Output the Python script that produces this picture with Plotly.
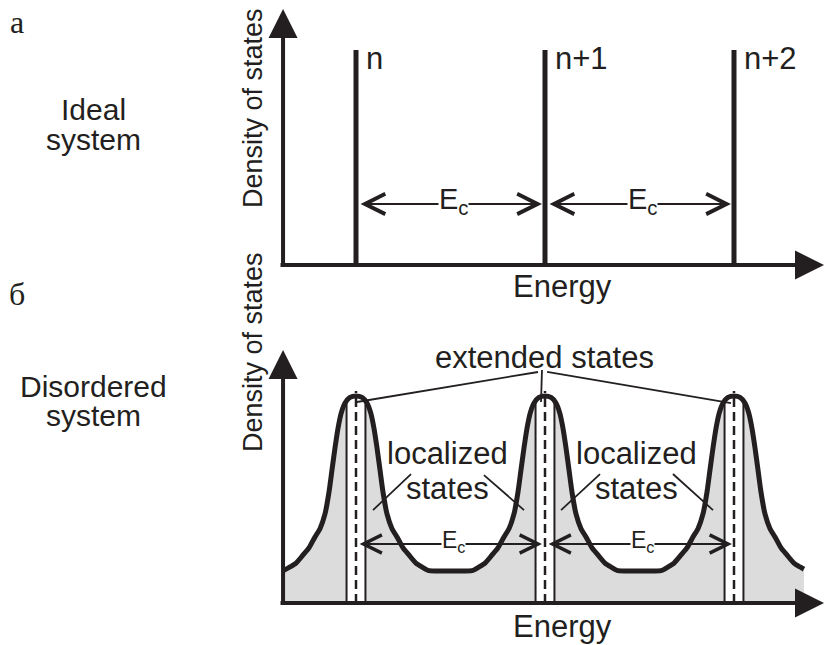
import numpy as np
import plotly.graph_objects as go

# ---------------- data ----------------
# (a) ideal system: discrete levels
levels = [1, 2, 3]
level_labels = ["n", "n+1", "n+2"]
level_height = [1.0, 1.0, 1.0]

# (б) disordered system: density of states
dos_energy = [0.614, 0.619, 0.651, 0.683, 0.720, 0.751, 0.783, 0.810, 0.836, 0.857,
              0.873, 0.889, 0.905, 0.921, 0.942, 0.968, 1.000,
              1.032, 1.058, 1.079, 1.095, 1.111, 1.127, 1.143, 1.164, 1.190,
              1.217, 1.249, 1.280, 1.317, 1.349, 1.381,
              1.420, 1.500, 1.580,
              1.619, 1.651, 1.683, 1.720, 1.751, 1.783, 1.810, 1.836, 1.857,
              1.873, 1.889, 1.905, 1.921, 1.942, 1.968, 2.000,
              2.032, 2.058, 2.079, 2.095, 2.111, 2.127, 2.143, 2.164, 2.190,
              2.217, 2.249, 2.280, 2.317, 2.349, 2.381,
              2.420, 2.500, 2.580,
              2.619, 2.651, 2.683, 2.720, 2.751, 2.783, 2.810, 2.836, 2.857,
              2.873, 2.889, 2.905, 2.921, 2.942, 2.968, 3.000,
              3.032, 3.058, 3.079, 3.095, 3.111, 3.127, 3.143, 3.164, 3.190,
              3.217, 3.249, 3.280, 3.317, 3.349, 3.370]
dos_value = [0.157, 0.158, 0.174, 0.193, 0.232, 0.266, 0.319, 0.360, 0.430, 0.535,
             0.643, 0.750, 0.845, 0.915, 0.966, 0.993, 1.000,
             0.993, 0.966, 0.915, 0.845, 0.750, 0.643, 0.535, 0.430, 0.360,
             0.319, 0.266, 0.232, 0.193, 0.174, 0.158,
             0.155, 0.155, 0.155,
             0.158, 0.174, 0.193, 0.232, 0.266, 0.319, 0.360, 0.430, 0.535,
             0.643, 0.750, 0.845, 0.915, 0.966, 0.993, 1.000,
             0.993, 0.966, 0.915, 0.845, 0.750, 0.643, 0.535, 0.430, 0.360,
             0.319, 0.266, 0.232, 0.193, 0.174, 0.158,
             0.155, 0.155, 0.155,
             0.158, 0.174, 0.193, 0.232, 0.266, 0.319, 0.360, 0.430, 0.535,
             0.643, 0.750, 0.845, 0.915, 0.966, 0.993, 1.000,
             0.993, 0.966, 0.915, 0.845, 0.750, 0.643, 0.535, 0.430, 0.360,
             0.319, 0.266, 0.232, 0.193, 0.174, 0.163]

peaks = [1, 2, 3]                 # extended states
strip_half = 0.05                 # half width of extended-state band
dashed_top = 1.024

# leader lines (energy, dos)
ext_leader_x = [[1.963, 1.005], [1.984, 1.979], [2.011, 2.984]]
ext_leader_y = [[1.116, 0.971], [1.126, 0.971], [1.116, 0.966]]
loc_leader_x = [[1.291, 1.090], [1.677, 1.889], [2.291, 2.085], [2.677, 2.889]]
loc_leader_y = [[0.623, 0.449], [0.618, 0.449], [0.623, 0.449], [0.623, 0.449]]

# E_c spacing arrows
ec_top = [(1.016, 1.984), (2.016, 2.984)]
ec_top_y = 0.284
ec_bot = [(1.011, 1.984), (2.011, 2.989)]
ec_bot_y = 0.285
ec_label_x = [1.5, 2.5]

axis_origin = 0.614
x_range = [-0.8836, 3.4815]
top_y_range = [-0.16279, 1.23256]
bot_y_range = [-0.20290, 1.36715]

# ---------------- style ----------------
INK = "#231f20"
GRAY = "#dcdcdc"
SANS = "Liberation Sans, Arial, sans-serif"
SERIF = "Liberation Serif, Times New Roman, serif"

fig = go.Figure()

# ---- top panel: discrete levels ----
lx, ly = [], []
for e, h in zip(levels, level_height):
    lx += [e, e, None]
    ly += [0, h, None]
fig.add_trace(go.Scatter(x=lx, y=ly, mode="lines", line=dict(color=INK, width=5),
                         xaxis="x2", yaxis="y2", hoverinfo="skip"))

# ---- bottom panel ----
fig.add_trace(go.Scatter(x=dos_energy, y=dos_value, mode="lines", fill="tozeroy",
                         fillcolor=GRAY, line=dict(width=0, shape="spline", smoothing=0.6),
                         xaxis="x", yaxis="y", hoverinfo="skip"))
for p in peaks:
    fig.add_trace(go.Scatter(x=[p - strip_half, p - strip_half, p + strip_half, p + strip_half],
                             y=[0, 1.0, 1.0, 0], fill="toself", fillcolor="white",
                             mode="lines", line=dict(width=0), xaxis="x", yaxis="y",
                             hoverinfo="skip"))
ex, ey = [], []
for p in peaks:
    for s in (-1, 1):
        xe = p + s * strip_half
        ex += [xe, xe, None]
        ey += [0, float(np.interp(xe, dos_energy, dos_value)), None]
fig.add_trace(go.Scatter(x=ex, y=ey, mode="lines", line=dict(color=INK, width=2),
                         xaxis="x", yaxis="y", hoverinfo="skip"))
fig.add_trace(go.Scatter(x=dos_energy, y=dos_value, mode="lines",
                         line=dict(color=INK, width=5, shape="spline", smoothing=0.6),
                         xaxis="x", yaxis="y", hoverinfo="skip"))
dx, dy = [], []
for p in peaks:
    dx += [p, p, None]
    dy += [0, dashed_top, None]
fig.add_trace(go.Scatter(x=dx, y=dy, mode="lines",
                         line=dict(color=INK, width=2.5, dash="9px,5px"),
                         xaxis="x", yaxis="y", hoverinfo="skip"))
for xs, ys in zip(ext_leader_x + loc_leader_x, ext_leader_y + loc_leader_y):
    fig.add_trace(go.Scatter(x=xs, y=ys, mode="lines", line=dict(color=INK, width=1.8),
                             xaxis="x", yaxis="y", hoverinfo="skip"))

annotations = []

def axis_arrows(xr, yr, ytip):
    annotations.append(dict(xref=xr, yref=yr, axref=xr, ayref=yr,
                            x=axis_origin, y=ytip, ax=axis_origin, ay=-0.012,
                            text="", showarrow=True, arrowhead=2, arrowsize=1.45,
                            arrowwidth=4, arrowcolor=INK))
    annotations.append(dict(xref="paper", yref=yr, x=850 / 825, y=0,
                            ax=-571, ay=0, text="", showarrow=True, arrowhead=2,
                            arrowsize=1.45, arrowwidth=4, arrowcolor=INK))

axis_arrows("x2", "y2", 1.191)
axis_arrows("x", "y", 1.222)

def ec_arrows(pairs, yv, xr, yr, fs, hs):
    for a, b in pairs:
        annotations.append(dict(xref=xr, yref=yr, axref=xr, ayref=yr,
                                x=b, y=yv, ax=a, ay=yv, text="", showarrow=True,
                                arrowhead=5, startarrowhead=5, arrowside="end+start",
                                arrowsize=hs, startarrowsize=hs, arrowwidth=2,
                                arrowcolor=INK))
    for xc in ec_label_x:
        annotations.append(dict(xref=xr, yref=yr, x=xc, y=yv, text="E<sub>c</sub>",
                                showarrow=False, bgcolor="white", borderpad=0,
                                xshift=3, yshift=3,
                                font=dict(family=SANS, size=fs, color=INK)))

ec_arrows(ec_top, ec_top_y, "x2", "y2", 29, 2.0)
ec_arrows(ec_bot, ec_bot_y, "x", "y", 23, 1.8)

for e, h, t in zip(levels, level_height, level_labels):
    annotations.append(dict(xref="x2", yref="y2", x=e, y=h, text=t, showarrow=False,
                            xanchor="left", yanchor="middle", xshift=8, yshift=-8,
                            font=dict(family=SANS, size=31, color=INK)))

def ptxt(px, py, text, size, family=SANS, angle=0):
    annotations.append(dict(xref="paper", yref="paper", x=px / 825, y=1 - py / 645,
                            text=text, showarrow=False, textangle=angle,
                            xanchor="center", yanchor="middle",
                            font=dict(family=family, size=size, color=INK)))

ptxt(17, 22, "а", 32, SERIF)
ptxt(17, 294, "б", 32, SERIF)
ptxt(93, 110, "Ideal", 30)
ptxt(93, 139, "system", 30)
ptxt(93, 386, "Disordered", 30)
ptxt(93, 415, "system", 30)
ptxt(253, 108, "Density of states", 27, angle=-90)
ptxt(253, 352, "Density of states", 27, angle=-90)
ptxt(562, 286, "Energy", 31)
ptxt(562, 626, "Energy", 31)
ptxt(544, 357, "extended states", 31)
ptxt(447, 453, "localized", 31)
ptxt(447, 488, "states", 31)
ptxt(636, 453, "localized", 31)
ptxt(636, 488, "states", 31)

hidden = dict(visible=False, showgrid=False, zeroline=False, fixedrange=True)
fig.update_layout(
    width=825, height=645,
    margin=dict(l=0, r=0, t=0, b=0, pad=0),
    paper_bgcolor="white", plot_bgcolor="white",
    showlegend=False,
    xaxis=dict(domain=[0, 1], range=x_range, anchor="y", **hidden),
    yaxis=dict(domain=[0, 0.50388], range=bot_y_range, anchor="x", **hidden),
    xaxis2=dict(domain=[0, 1], range=x_range, anchor="y2", **hidden),
    yaxis2=dict(domain=[0.534884, 1], range=top_y_range, anchor="x2", **hidden),
    annotations=annotations,
)

fig.write_html("out.html")
